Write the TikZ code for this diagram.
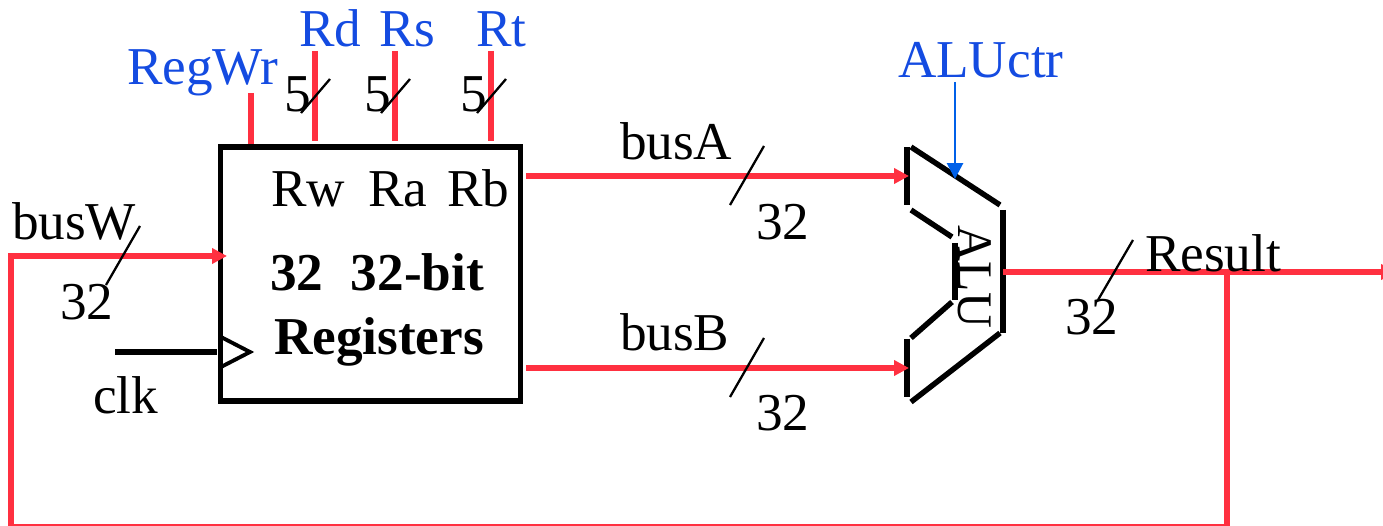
\documentclass[tikz,border=0pt]{standalone}
\usepackage{fontspec}
\setmainfont{Liberation Serif}
\usetikzlibrary{arrows.meta}

\definecolor{buscolor}{RGB}{255,48,64}
\definecolor{ctrcolor}{RGB}{20,75,225}
\definecolor{ctrline}{RGB}{0,96,232}

\tikzset{
    txt/.style={anchor=base west, inner sep=0pt, outer sep=0pt, font=\fontsize{30.3}{32}\selectfont},
    ctrtxt/.style={txt, text=ctrcolor},
    boldtxt/.style={txt, font=\fontsize{30.3}{32}\selectfont\bfseries},
    bus/.style={draw=buscolor, line width=3pt},
    busarrow/.style={bus, -{Triangle[length=8.5pt, width=8.5pt]}},
    wall/.style={draw=black, line width=3.1pt},
    busslash/.style={draw=black, line width=1.3pt}
}

\begin{document}
\begin{tikzpicture}[x=0.02cm, y=-0.02cm]
    \path[use as bounding box] (0,0) rectangle (1383,526);

    % register file
    \node[draw, line width=3.2pt, minimum width=6cm, minimum height=5.08cm, inner sep=0pt] (regfile) at (370.5,274) {};
    \node[txt] (rw) at (271,207) {Rw};
    \node[txt] (ra) at (368,207) {Ra};
    \node[txt] (rb) at (447,207) {Rb};
    \node[boldtxt] (regcount) at (270,291) {32\hspace{0.52em}32-bit};
    \node[boldtxt] (regname) at (274,355) {Registers};

    % control inputs
    \node[ctrtxt] (regwr) at (127,85) {RegWr};
    \node[ctrtxt] (rd) at (299,47) {Rd};
    \node[ctrtxt] (rs) at (379,47) {Rs};
    \node[ctrtxt] (rt) at (476,47) {Rt};
    \coordinate (regwrtop) at (251,93);
    \coordinate (rdtop) at (315,51);
    \coordinate (rstop) at (395,51);
    \coordinate (rttop) at (491,51);
    \coordinate (rdpin) at (315,141);
    \coordinate (rspin) at (395,141);
    \coordinate (rtpin) at (491,141);
    \draw[bus] (regwrtop) -- (regwrtop |- regfile.north);
    \draw[bus] (rdtop) -- (rdpin);
    \draw[bus] (rstop) -- (rspin);
    \draw[bus] (rttop) -- (rtpin);
    \node[txt] (rdwidth) at (284,112) {5};
    \node[txt] (rswidth) at (364,112) {5};
    \node[txt] (rtwidth) at (460,112) {5};
    \draw[busslash] (330,79) -- (301,113);
    \draw[busslash] (410,79) -- (381,113);
    \draw[busslash] (506,79) -- (477,113);

    % clock
    \node[txt] (clk) at (93,414) {clk};
    \coordinate (clkin) at (115,352);
    \coordinate (clkpin) at (217,352);
    \draw[draw=black, line width=3pt] (clkin) -- (clkpin);
    \draw[draw=black, line width=2.2pt] (221,337) -- (250,352) -- (221,367);

    % alu
    \node[txt, font=\fontsize{28.3}{30}\selectfont, anchor=center, rotate=-90] (alu) at (975,277) {ALU};
    \draw[wall] (907,147) -- (907,205);
    \draw[wall] (911,147) -- (1000,205);
    \draw[wall] (911,210) -- (952,237);
    \draw[wall, line width=3.4pt] (955,243) -- (955,300);
    \draw[wall] (952,302) -- (911,338);
    \draw[wall] (907,339) -- (907,397);
    \draw[wall] (911,402) -- (1000,333);
    \draw[wall] (1003,210) -- (1003,333);
    \coordinate (aluA) at (909,176);
    \coordinate (aluB) at (909,368);
    \coordinate (aluctrin) at (955,179);
    \coordinate (aluout) at (1003,272);

    % buses
    \coordinate (busAout) at (526,176);
    \coordinate (busBout) at (526,368);
    \coordinate (busWin) at (227,256);
    \coordinate (busWcorner) at (11,256);
    \coordinate (resultend) at (1396,272);
    \coordinate (tapdown) at (1227,272);
    \coordinate (tapbottom) at (1227,527);
    \coordinate (busWbottom) at (11,527);
    \draw[busarrow] (busAout) -- (aluA);
    \draw[busarrow] (busBout) -- (aluB);
    \draw[busarrow] (aluout) -- (resultend);
    \draw[busarrow] (busWbottom) -- (busWcorner) -- (busWin);
    \draw[bus] (tapdown) -- (tapbottom) -- (busWbottom);

    \node[ctrtxt] (aluctr) at (898,78) {ALUctr};
    \coordinate (aluctrtop) at (955,82);
    \draw[draw=ctrline, line width=1.6pt, -{Triangle[length=9pt, width=9pt]}] (aluctrtop) -- (aluctrin);

    % bus labels
    \node[txt] (busAname) at (620,160) {busA};
    \node[txt] (busAwidth) at (756,240) {32};
    \node[txt] (busBname) at (620,351) {busB};
    \node[txt] (busBwidth) at (756,431) {32};
    \node[txt] (busWname) at (12,240) {busW};
    \node[txt] (busWwidth) at (60,320) {32};
    \node[txt] (resultname) at (1145,272) {Result};
    \node[txt] (resultwidth) at (1065,335) {32};
    \draw[busslash] (764,146) -- (730,205);
    \draw[busslash] (764,338) -- (730,397);
    \draw[busslash] (140,226) -- (106,285);
    \draw[busslash] (1133,240) -- (1098,300);
\end{tikzpicture}
\end{document}
